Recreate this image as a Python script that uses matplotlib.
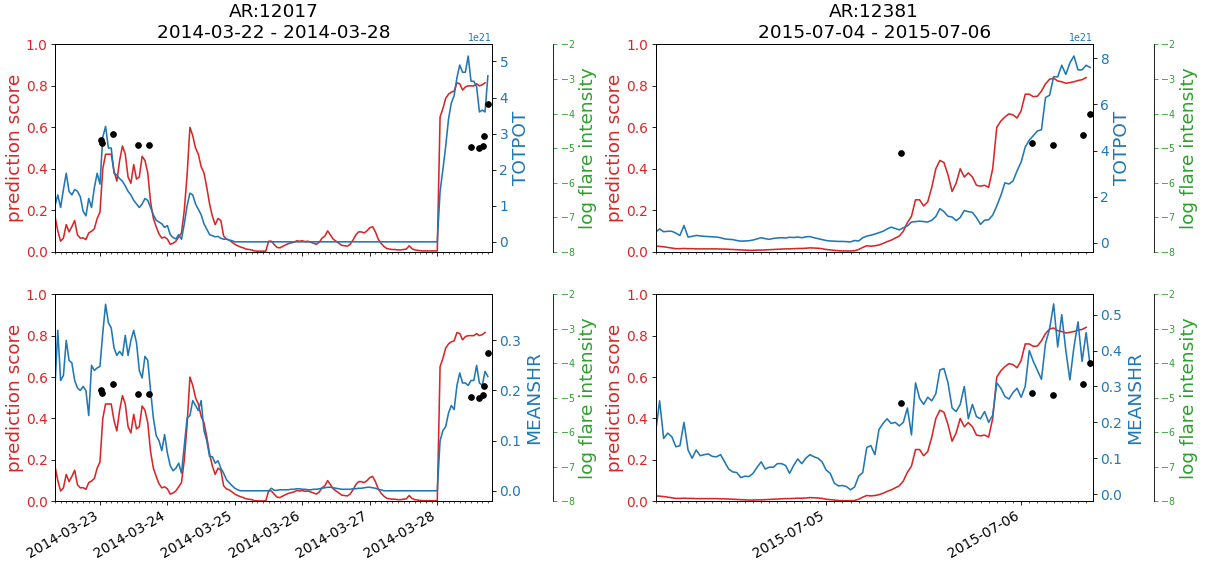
import numpy as np
import pandas as pd
import matplotlib
matplotlib.use('Agg')
import matplotlib.pyplot as plt
import matplotlib.dates as mdates
from matplotlib.ticker import MultipleLocator

# AR 12017, hourly samples starting at start_left
ar_left = 'AR:12017'
period_left = '2014-03-22 - 2014-03-28'
start_left = '2014-03-22 08:00'
end_left = '2014-03-28 19:30'

score_left = [
    0.17, 0.10, 0.05, 0.065, 0.13, 0.095, 0.12, 0.15, 0.08, 0.065,
    0.066, 0.058, 0.09, 0.098, 0.11, 0.16, 0.19, 0.40, 0.47, 0.47,
    0.47, 0.39, 0.34, 0.44, 0.51, 0.47, 0.36, 0.33, 0.42, 0.35,
    0.36, 0.46, 0.44, 0.38, 0.24, 0.16, 0.12, 0.085, 0.065, 0.07,
    0.06, 0.035, 0.04, 0.05, 0.07, 0.09, 0.20, 0.37, 0.60, 0.56,
    0.50, 0.47, 0.41, 0.38, 0.31, 0.23, 0.17, 0.13, 0.16, 0.15,
    0.075, 0.06, 0.055, 0.045, 0.035, 0.028, 0.022, 0.018, 0.012, 0.01,
    0.008, 0.003, 0.002, 0.002, 0.002, 0.002, 0.05, 0.05, 0.034, 0.02,
    0.018, 0.025, 0.032, 0.038, 0.042, 0.045, 0.052, 0.05, 0.052, 0.048,
    0.05, 0.045, 0.04, 0.035, 0.045, 0.065, 0.075, 0.10, 0.08, 0.06,
    0.05, 0.04, 0.03, 0.028, 0.026, 0.035, 0.055, 0.08, 0.095, 0.095,
    0.09, 0.10, 0.115, 0.12, 0.095, 0.06, 0.04, 0.025, 0.015, 0.012,
    0.01, 0.01, 0.008, 0.008, 0.01, 0.012, 0.028, 0.014, 0.008, 0.006,
    0.004, 0.003, 0.003, 0.003, 0.003, 0.003, 0.003, 0.65, 0.69, 0.74,
    0.76, 0.77, 0.775, 0.815, 0.81, 0.78, 0.795, 0.80, 0.80, 0.80,
    0.81, 0.80, 0.805, 0.815,
]

# TOTPOT in units of 1e21
totpot_left = [
    1.0, 1.3, 0.95, 1.45, 1.9, 1.4, 1.3, 1.45, 1.4, 1.25,
    0.85, 0.72, 1.2, 0.95, 1.5, 1.9, 1.6, 2.9, 3.2, 2.6,
    2.6, 1.9, 1.85, 1.75, 1.68, 1.55, 1.4, 1.3, 1.15, 1.05,
    0.95, 1.05, 1.2, 1.15, 0.95, 0.75, 0.6, 0.55, 0.5, 0.4,
    0.45, 0.2, 0.12, 0.08, 0.2, 0.07, 0.5, 1.0, 1.35, 1.3,
    1.05, 0.9, 0.75, 0.5, 0.35, 0.2, 0.17, 0.14, 0.15, 0.1,
    0.07, 0.08, 0.05, 0.03, 0.0, 0.0, 0.0, 0.0, 0.0, 0.0,
    0.0, 0.0, 0.0, 0.0, 0.0, 0.0, 0.0, 0.0, 0.0, 0.0,
    0.0, 0.0, 0.0, 0.0, 0.0, 0.0, 0.0, 0.0, 0.0, 0.0,
    0.0, 0.0, 0.0, 0.0, 0.0, 0.0, 0.0, 0.0, 0.0, 0.0,
    0.0, 0.0, 0.0, 0.0, 0.0, 0.0, 0.0, 0.0, 0.0, 0.0,
    0.0, 0.0, 0.0, 0.0, 0.0, 0.0, 0.0, 0.0, 0.0, 0.0,
    0.0, 0.0, 0.0, 0.0, 0.0, 0.0, 0.0, 0.0, 0.0, 0.0,
    0.0, 0.0, 0.0, 0.0, 0.0, 0.0, 0.0, 1.4, 2.0, 2.65,
    3.4, 3.85, 4.05, 4.55, 4.9, 4.7, 4.7, 5.15, 4.45, 4.45,
    4.3, 3.6, 3.65, 3.6, 4.6,
]

meanshr_left = [
    0.21, 0.32, 0.22, 0.23, 0.30, 0.26, 0.255, 0.22, 0.205, 0.20,
    0.208, 0.20, 0.15, 0.25, 0.24, 0.245, 0.248, 0.315, 0.372, 0.335,
    0.325, 0.285, 0.27, 0.278, 0.27, 0.31, 0.27, 0.30, 0.32, 0.295,
    0.24, 0.225, 0.268, 0.26, 0.20, 0.145, 0.11, 0.10, 0.08, 0.112,
    0.075, 0.05, 0.04, 0.045, 0.055, 0.035, 0.09, 0.145, 0.15, 0.18,
    0.17, 0.16, 0.18, 0.12, 0.10, 0.068, 0.068, 0.055, 0.06, 0.045,
    0.035, 0.022, 0.016, 0.01, 0.005, 0.002, 0.0, 0.0, 0.0, 0.0,
    0.0, 0.0, 0.0, 0.0, 0.0, 0.0, 0.0, 0.005, 0.001, 0.001,
    0.002, 0.002, 0.002, 0.002, 0.003, 0.003, 0.004, 0.004, 0.003, 0.003,
    0.002, 0.002, 0.003, 0.003, 0.004, 0.005, 0.006, 0.007, 0.007, 0.006,
    0.005, 0.004, 0.003, 0.003, 0.003, 0.003, 0.004, 0.004, 0.005, 0.005,
    0.006, 0.007, 0.007, 0.006, 0.005, 0.003, 0.002, 0.0, 0.0, 0.0,
    0.0, 0.0, 0.0, 0.0, 0.0, 0.0, 0.0, 0.0, 0.0, 0.0,
    0.0, 0.0, 0.0, 0.0, 0.0, 0.0, 0.0,
    0.10, 0.12, 0.128, 0.155, 0.17, 0.162, 0.21, 0.235, 0.215, 0.215,
    0.21, 0.22, 0.22, 0.25, 0.215, 0.21, 0.238, 0.228,
]

flare_time_left = ['2014-03-23 00:12', '2014-03-23 00:42', '2014-03-23 04:42',
                   '2014-03-23 13:36', '2014-03-23 17:30', '2014-03-28 11:54',
                   '2014-03-28 14:54', '2014-03-28 16:12', '2014-03-28 16:48',
                   '2014-03-28 18:06']
flare_logi_left = [-4.78, -4.85, -4.60, -4.90, -4.90, -4.97, -5.00, -4.93, -4.66, -3.71]

# AR 12381, half-hourly samples starting at start_right
ar_right = 'AR:12381'
period_right = '2015-07-04 - 2015-07-06'
start_right = '2015-07-04 03:00'
end_right = '2015-07-06 08:48'

score_right = [
    0.026, 0.025, 0.023, 0.02, 0.017, 0.014, 0.014, 0.015, 0.014, 0.014,
    0.013, 0.013, 0.013, 0.013, 0.013, 0.013, 0.012, 0.012, 0.011, 0.01,
    0.009, 0.008, 0.007, 0.006, 0.006, 0.007, 0.007, 0.008, 0.009, 0.01,
    0.011, 0.012, 0.013, 0.013, 0.014, 0.015, 0.015, 0.016, 0.018, 0.017,
    0.016, 0.014, 0.01, 0.008, 0.006, 0.004, 0.003, 0.003, 0.003, 0.004,
    0.01, 0.02, 0.028, 0.026, 0.028, 0.032, 0.039, 0.048, 0.055, 0.065,
    0.075, 0.098, 0.14, 0.17, 0.25, 0.25, 0.22, 0.24, 0.31, 0.40,
    0.44, 0.43, 0.37, 0.29, 0.33, 0.40, 0.36, 0.38, 0.36, 0.32,
    0.316, 0.32, 0.31, 0.40, 0.60, 0.63, 0.65, 0.665, 0.66, 0.645,
    0.68, 0.76, 0.76, 0.748, 0.75, 0.775, 0.81, 0.832, 0.837, 0.824,
    0.82, 0.813, 0.816, 0.82, 0.826, 0.83, 0.84,
]

totpot_right = [
    0.46, 0.6, 0.48, 0.5, 0.5, 0.42, 0.32, 0.75, 0.25, 0.28,
    0.32, 0.3, 0.28, 0.27, 0.26, 0.25, 0.22, 0.17, 0.15, 0.14,
    0.1, 0.07, 0.08, 0.09, 0.12, 0.17, 0.22, 0.18, 0.15, 0.19,
    0.21, 0.22, 0.21, 0.24, 0.23, 0.25, 0.22, 0.26, 0.27, 0.22,
    0.18, 0.14, 0.1, 0.08, 0.07, 0.06, 0.06, 0.05, 0.04, 0.1,
    0.08, 0.22, 0.29, 0.33, 0.38, 0.44, 0.5, 0.6, 0.68, 0.62,
    0.56, 0.65, 0.74, 0.9, 0.92, 0.94, 0.92, 0.9, 0.98, 1.14,
    1.48, 1.35, 1.15, 1.12, 0.96, 1.1, 1.4, 1.35, 1.32, 1.09,
    0.8, 0.98, 1.0, 1.2, 1.6, 2.05, 2.6, 2.55, 2.68, 3.12,
    3.5, 4.15, 4.45, 4.65, 4.85, 4.9, 6.3, 6.4, 7.2, 7.2,
    7.7, 7.3, 7.8, 8.1, 7.5, 7.5, 7.7, 7.6,
]

meanshr_right = [
    0.17, 0.26, 0.155, 0.17, 0.16, 0.132, 0.135, 0.2, 0.123, 0.1,
    0.123, 0.107, 0.11, 0.112, 0.105, 0.104, 0.11, 0.09, 0.07, 0.062,
    0.06, 0.046, 0.05, 0.049, 0.058, 0.075, 0.09, 0.07, 0.075, 0.075,
    0.085, 0.085, 0.08, 0.058, 0.08, 0.098, 0.085, 0.1, 0.11, 0.104,
    0.1, 0.09, 0.067, 0.058, 0.031, 0.023, 0.024, 0.021, 0.012, 0.02,
    0.05, 0.06, 0.13, 0.135, 0.11, 0.18, 0.197, 0.21, 0.197, 0.2,
    0.19, 0.2, 0.24, 0.165, 0.31, 0.267, 0.25, 0.27, 0.26, 0.28,
    0.346, 0.35, 0.31, 0.24, 0.23, 0.25, 0.3, 0.21, 0.25, 0.216,
    0.21, 0.23, 0.2, 0.22, 0.31, 0.295, 0.272, 0.265, 0.283, 0.295,
    0.27, 0.3, 0.4, 0.37, 0.345, 0.32, 0.42, 0.46, 0.53, 0.41,
    0.5, 0.4, 0.318, 0.41, 0.48, 0.37, 0.45, 0.356,
]

flare_time_right = ['2015-07-05 09:10', '2015-07-06 01:22', '2015-07-06 03:57',
                    '2015-07-06 07:40', '2015-07-06 08:30']
flare_logi_right = [-5.14, -4.86, -4.92, -4.61, -4.00]

RED, BLUE, GREEN = 'tab:red', 'tab:blue', 'tab:green'
LABEL_SIZE = 17.5
TICK_SIZE = 13


def draw_panel(ax, t_score, score, t_feat, feat, feat_name, feat_lim, feat_step,
               t_flare, flare):
    ax.plot(t_score, score, color=RED, lw=1.5)
    ax.set_ylim(0, 1)
    ax.set_ylabel('prediction score', color=RED, fontsize=LABEL_SIZE, labelpad=2)
    ax.tick_params(axis='y', labelcolor=RED, labelsize=TICK_SIZE)

    ax2 = ax.twinx()
    ax2.plot(t_feat, feat, color=BLUE, lw=1.5)
    ax2.set_ylim(*feat_lim)
    ax2.yaxis.set_major_locator(MultipleLocator(feat_step))
    ax2.set_ylabel(feat_name, color=BLUE, fontsize=LABEL_SIZE)
    ax2.tick_params(axis='y', labelcolor=BLUE, labelsize=TICK_SIZE)
    ax2.yaxis.get_offset_text().set_color(BLUE)
    ax2.yaxis.get_offset_text().set_fontsize(9)

    ax3 = ax.twinx()
    ax3.spines['right'].set_position(('axes', 1.14))
    ax3.scatter(t_flare, flare, color='k', s=28, zorder=3)
    ax3.set_ylim(-8, -2)
    ax3.set_yticks(range(-8, -1))
    ax3.set_ylabel('log flare intensity', color=GREEN, fontsize=LABEL_SIZE)
    ax3.tick_params(axis='y', colors=GREEN, labelsize=9)


fig, axes = plt.subplots(2, 2, sharex='col', figsize=(1206 / 76, 561 / 76), dpi=76)
fig.subplots_adjust(left=0.0456, right=0.906, bottom=0.1064, top=0.9207,
                    wspace=0.374, hspace=0.206)

panels = [
    (start_left, 'h', score_left, totpot_left, meanshr_left,
     flare_time_left, flare_logi_left, end_left, (-0.27, 5.47), 1,
     (-0.021, 0.392), ar_left, period_left, 2),
    (start_right, '30min', score_right, totpot_right, meanshr_right,
     flare_time_right, flare_logi_right, end_right, (-0.38, 8.6), 2,
     (-0.02, 0.557), ar_right, period_right, 1),
]

for col, (start, freq, score, totpot, meanshr, ftime, flogi, end,
          tot_lim, tot_step, shr_lim, ar, period, minor_step) in enumerate(panels):
    t_score = pd.date_range(start, periods=len(score), freq=freq)
    t_feat = pd.date_range(start, periods=len(totpot), freq=freq)
    t_flare = pd.to_datetime(ftime)
    totpot_vals = np.array(totpot) * 1e21

    top, bottom = axes[0, col], axes[1, col]
    draw_panel(top, t_score, score, t_feat, totpot_vals, 'TOTPOT',
               (tot_lim[0] * 1e21, tot_lim[1] * 1e21), tot_step * 1e21,
               t_flare, flogi)
    draw_panel(bottom, t_score, score, t_feat, meanshr, 'MEANSHR',
               shr_lim, 0.1, t_flare, flogi)
    top.set_title(f'{ar}\n{period}', fontsize=LABEL_SIZE)

    bottom.set_xlim(pd.Timestamp(start), pd.Timestamp(end))
    bottom.xaxis.set_major_locator(mdates.DayLocator())
    bottom.xaxis.set_major_formatter(mdates.DateFormatter('%Y-%m-%d'))
    bottom.xaxis.set_minor_locator(mdates.HourLocator(interval=minor_step))
    bottom.tick_params(axis='x', labelsize=TICK_SIZE)
    for lbl in bottom.get_xticklabels():
        lbl.set_rotation(30)
        lbl.set_ha('right')

fig.savefig('out.png', dpi=76)
